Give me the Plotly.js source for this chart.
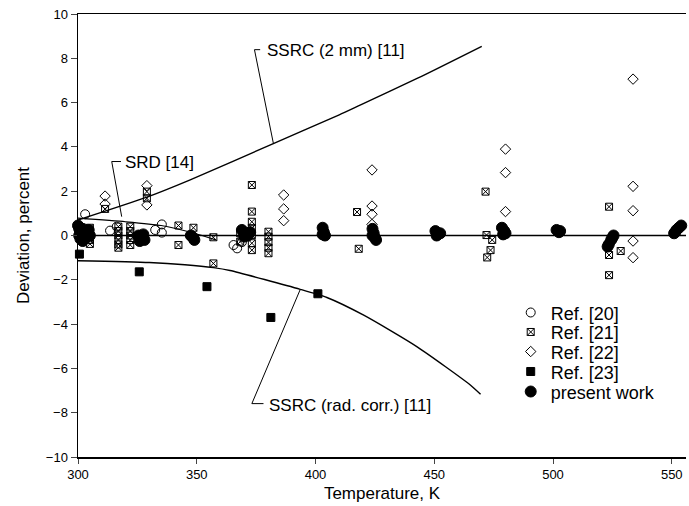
<!DOCTYPE html>
<html>
<head>
<meta charset="utf-8">
<script src="https://cdn.plot.ly/plotly-3.0.1.min.js"></script>
<style>html,body{margin:0;padding:0;background:#fff}#chart{width:689px;height:506px}</style>
</head>
<body>
<div id="chart"></div>
<script>
// ---- data (Temperature in K, deviation in percent) ----
var ref20T   = [299.5, 303, 313.5, 316.3, 332.5, 335.3, 335.3, 365.5, 367, 369];
var ref20Dev = [0.78, 0.96, 0.22, 0.40, 0.25, 0.50, 0.13, -0.43, -0.58, -0.30];

var ref21T   = [305, 305, 305, 305, 305,
                317, 317, 317, 317, 317, 317,
                322, 322, 322, 322, 322,
                311.4, 329, 329, 342.3, 342.3, 348.6, 357, 357, 368.3, 368.3,
                373.2, 373.2, 373.2, 373.2, 373.2, 373.2, 373.2,
                380.2, 380.2, 380.2, 380.2, 380.2,
                417.5, 418.2, 471.6, 472, 474.4, 473.7, 472.3,
                523.6, 523.6, 523.6, 528.5];
var ref21Dev = [0.35, 0.15, -0.05, -0.2, -0.38,
                0.4, 0.2, 0.0, -0.2, -0.4, -0.55,
                0.4, 0.2, 0.0, -0.2, -0.43,
                1.2, 1.98, 1.68, 0.45, -0.43, 0.35, -0.08, -1.26, 0.1, -0.28,
                2.28, 1.08, 0.62, 0.33, 0.02, -0.35, -0.66,
                0.17, -0.05, -0.3, -0.55, -0.8,
                1.06, -0.6, 1.98, 0.02, -0.2, -0.66, -0.99,
                1.3, -0.88, -1.79, -0.7];

var ref22T   = [311.4, 311.4, 329, 329, 386.6, 386.6, 386.6,
                423.8, 423.8, 423.8, 423.8, 480, 480, 480,
                533.7, 533.7, 533.7, 533.7, 533.7];
var ref22Dev = [1.78, 1.42, 2.25, 1.38, 1.83, 1.2, 0.67,
                2.96, 1.33, 0.96, 0.5, 3.9, 2.84, 1.08,
                7.06, 2.22, 1.12, -0.25, -1.0];

var ref23T   = [300.6, 325.8, 354.3, 381.2, 401];
var ref23Dev = [-0.84, -1.64, -2.31, -3.7, -2.63];

var presentT   = [300, 300.5, 301, 300.5, 301, 302, 303, 303.5, 304.5, 305, 302,
                  325.5, 326.5, 327.5, 328, 326,
                  347.5, 348.5, 349,
                  369, 370.5, 371.5, 372.5, 370,
                  403, 403.5, 404, 403,
                  424, 424.5, 425, 425.5, 424,
                  450.5, 451.5, 452.5, 451,
                  478.5, 479.5, 479, 480,
                  501.5, 502.5, 503,
                  525.5, 524.5, 523.5, 523, 525,
                  551, 552, 553, 554, 551.5];
var presentDev = [0.45, 0.3, 0.15, 0.0, -0.15, 0.3, 0.1, -0.1, 0.25, 0.0, -0.25,
                  0.0, -0.15, 0.05, -0.2, -0.25,
                  0.0, -0.1, -0.2,
                  0.25, 0.1, 0.0, 0.15, -0.05,
                  0.35, 0.15, 0.0, 0.05,
                  0.3, 0.1, -0.1, -0.2, 0.0,
                  0.2, 0.05, 0.1, 0.0,
                  0.35, 0.2, 0.05, 0.1,
                  0.25, 0.15, 0.2,
                  0.0, -0.2, -0.4, -0.5, -0.1,
                  0.1, 0.25, 0.35, 0.45, 0.15];

// reference curves
var fitT   = [300, 556];
var fitDev = [0, 0];
var ssrc2T   = [300, 329, 347, 382, 410, 419, 443, 470];
var ssrc2Dev = [0.70, 1.73, 2.5, 4.14, 5.45, 5.9, 7.1, 8.54];
var srdT   = [300, 320, 335, 349, 358];
var srdDev = [0.78, 0.62, 0.45, 0.1, -0.2];
var radT   = [300, 330, 345, 357, 364, 393.6, 404.8, 420.3, 442.8, 465.3, 469.5];
var radDev = [-1.14, -1.22, -1.32, -1.45, -1.58, -2.43, -2.8, -3.6, -5.03, -6.76, -7.17];

// curve labels
var curveLabels = ['SSRC (2 mm) [11]', 'SRD [14]', 'SSRC (rad. corr.) [11]'];
var seriesNames = ['Ref. [20]', 'Ref. [21]', 'Ref. [22]', 'Ref. [23]', 'present work'];
var xTickVals = [300, 350, 400, 450, 500, 550];
var yTickVals = [-10, -8, -6, -4, -2, 0, 2, 4, 6, 8, 10];

// ---- chart ----
var FONT = 'Liberation Sans, Arial, Helvetica, sans-serif';
function lineTrace(x, y, w) {
  return {x: x, y: y, mode: 'lines', showlegend: false, hoverinfo: 'skip',
          line: {color: '#000', width: w, shape: 'spline', smoothing: 0.6}};
}
function markTrace(x, y, name, symbol, size, legendId) {
  return {x: x, y: y, mode: 'markers', name: name, legend: legendId, cliponaxis: false,
          marker: {symbol: symbol, size: size, color: '#000',
                   line: {color: '#000', width: 1}}};
}

var traces = [
  lineTrace(fitT, fitDev, 1.5),
  lineTrace(ssrc2T, ssrc2Dev, 1.4),
  lineTrace(srdT, srdDev, 1.2),
  lineTrace(radT, radDev, 1.4),
  markTrace(ref20T, ref20Dev, seriesNames[0], 'circle-open', 9, 'legend'),
  markTrace(ref21T, ref21Dev, seriesNames[1], 'square-x-open', 7, 'legend2'),
  markTrace(ref22T, ref22Dev, seriesNames[2], 'diamond-open', 8, 'legend3'),
  markTrace(ref23T, ref23Dev, seriesNames[3], 'square', 8, 'legend4'),
  markTrace(presentT, presentDev, seriesNames[4], 'circle', 11, 'legend5')
];

function leg(y) {
  return {x: 0.7117, y: y, xanchor: 'left', yanchor: 'top', bgcolor: 'rgba(0,0,0,0)',
          borderwidth: 0, font: {family: FONT, size: 18, color: '#000'}};
}

var ann = {font: {family: FONT, size: 17, color: '#000'}, showarrow: false,
           xref: 'x', yref: 'y', xanchor: 'left', yanchor: 'middle'};
function label(text, x, y) {
  return Object.assign({}, ann, {text: text, x: x, y: y});
}
function leader(pts) {
  var d = 'M ' + pts.map(function (p) { return p[0] + ',' + p[1]; }).join(' L ');
  return {type: 'path', xref: 'x', yref: 'y', path: d, line: {color: '#000', width: 1}};
}

var layout = {
  width: 689, height: 506,
  margin: {l: 78, r: 3, t: 14, b: 49},
  paper_bgcolor: '#fff', plot_bgcolor: '#fff',
  font: {family: FONT, color: '#000'},
  showlegend: true,
  legend: leg(0.3673), legend2: leg(0.3233), legend3: leg(0.2792),
  legend4: leg(0.2341), legend5: leg(0.1889),
  xaxis: {
    range: [300, 556], tickvals: xTickVals, ticks: 'outside', ticklen: 5, tickwidth: 1,
    showline: true, linewidth: 1.5, linecolor: '#000', mirror: true,
    showgrid: false, zeroline: false,
    tickfont: {family: FONT, size: 13, color: '#000'},
    title: {text: 'Temperature, K', font: {family: FONT, size: 17, color: '#000'}, standoff: 6}
  },
  yaxis: {
    range: [-10, 10], tickvals: yTickVals, ticks: 'outside', ticklen: 6, tickwidth: 1,
    showline: true, linewidth: 1.5, linecolor: '#000',
    showgrid: false, zeroline: false,
    tickfont: {family: FONT, size: 13, color: '#000'},
    title: {text: 'Deviation, percent', font: {family: FONT, size: 17, color: '#000'}, standoff: 12}
  },
  annotations: [
    label(curveLabels[0], 378.8, 8.35),
    label(curveLabels[1], 319, 3.28),
    label(curveLabels[2], 379.5, -7.66)
  ],
  shapes: [
    leader([[376.7, 8.39], [374.3, 8.39], [382.3, 4.14]]),
    leader([[318.1, 3.34], [314.2, 3.34], [318.4, 0.85]]),
    leader([[378.1, -7.59], [373.2, -7.59], [393.6, -2.43]])
  ]
};

Plotly.newPlot('chart', traces, layout, {staticPlot: true, displayModeBar: false});
</script>
</body>
</html>
